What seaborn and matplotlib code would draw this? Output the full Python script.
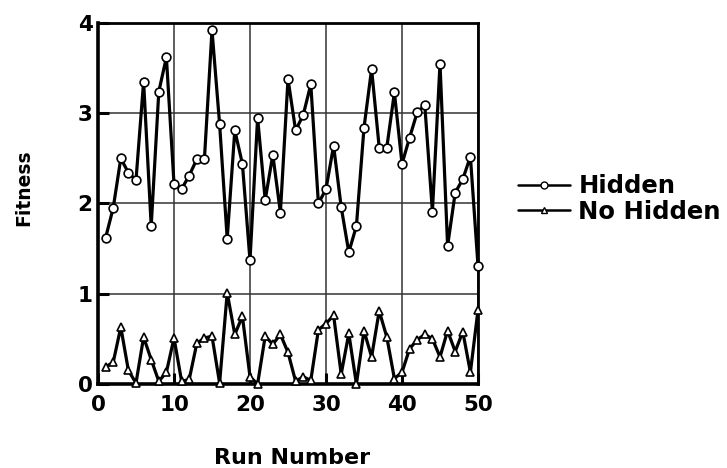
import matplotlib
matplotlib.use("Agg")
import matplotlib.pyplot as plt
from matplotlib.lines import Line2D
import seaborn as sns
import pandas as pd

runs = list(range(1, 51))
hidden = [1.62, 1.95, 2.50, 2.34, 2.26, 3.35, 1.75, 3.24, 3.62, 2.22,
          2.16, 2.31, 2.49, 2.49, 3.92, 2.88, 1.61, 2.81, 2.44, 1.37,
          2.95, 2.04, 2.54, 1.90, 3.38, 2.81, 2.98, 3.32, 2.00, 2.16,
          2.64, 1.96, 1.46, 1.75, 2.84, 3.49, 2.62, 2.62, 3.23, 2.44,
          2.73, 3.01, 3.09, 1.91, 3.55, 1.53, 2.12, 2.27, 2.52, 1.31]
no_hidden = [0.19, 0.24, 0.63, 0.15, 0.01, 0.52, 0.27, 0.03, 0.13, 0.51,
             0.03, 0.05, 0.45, 0.51, 0.53, 0.01, 1.01, 0.55, 0.75, 0.08,
             0.00, 0.53, 0.44, 0.55, 0.35, 0.03, 0.08, 0.04, 0.60, 0.67,
             0.76, 0.11, 0.56, 0.00, 0.59, 0.30, 0.81, 0.52, 0.06, 0.13,
             0.39, 0.49, 0.55, 0.50, 0.30, 0.59, 0.36, 0.58, 0.13, 0.82]
series_names = ["Hidden", "No Hidden"]
x_ticks = [0, 10, 20, 30, 40, 50]
y_ticks = [0, 1, 2, 3, 4]

df = pd.DataFrame({"Run Number": runs, "Hidden": hidden, "No Hidden": no_hidden})

sns.set_theme(style="white")
plt.rcParams["font.family"] = ["DejaVu Sans"]
plt.rcParams["font.weight"] = "bold"
plt.rcParams["text.color"] = "black"
plt.rcParams["axes.labelcolor"] = "black"
plt.rcParams["xtick.color"] = "black"
plt.rcParams["ytick.color"] = "black"

fig = plt.figure(figsize=(7.27, 4.68), dpi=100)
ax = fig.add_axes([98 / 727, 1 - 384 / 468, 380 / 727, 361 / 468])

sns.lineplot(data=df, x="Run Number", y="Hidden", ax=ax, color="black",
             linewidth=2.3, marker="o", markersize=6.3, markerfacecolor="white",
             markeredgecolor="black", markeredgewidth=1.2, clip_on=False, zorder=4)
sns.lineplot(data=df, x="Run Number", y="No Hidden", ax=ax, color="black",
             linewidth=2.3, marker="^", markersize=6.0, markerfacecolor="white",
             markeredgecolor="black", markeredgewidth=1.2, clip_on=False, zorder=4)

ax.set_xlim(0, 50)
ax.set_ylim(0, 4)
ax.set_xticks(x_ticks)
ax.set_yticks(y_ticks)
ax.grid(True, color="#333333", linewidth=1.1)
ax.set_axisbelow(True)

for side in ["left", "bottom"]:
    ax.spines[side].set_linewidth(2.6)
for side in ["top", "right"]:
    ax.spines[side].set_linewidth(2.0)
for s in ax.spines.values():
    s.set_color("black")
    s.set_visible(True)

ax.tick_params(axis="both", direction="in", length=8, width=2.2, color="black",
               labelcolor="black", labelsize=15.5, left=True, bottom=True)
ax.tick_params(axis="x", pad=8)
ax.tick_params(axis="y", pad=4)
for lab in ax.get_xticklabels() + ax.get_yticklabels():
    lab.set_fontweight("bold")

ax.set_xlabel("Run Number", fontsize=16, fontweight="bold", color="black",
              va="bottom")
ax.set_ylabel("Fitness", fontsize=13.5, fontweight="bold", color="black")
ax.xaxis.set_label_coords(0.512, -84 / 361)
ax.yaxis.set_label_coords(-0.171, 0.543)

handles = [
    Line2D([], [], color="black", linewidth=1.8, marker="o", markersize=5,
           markerfacecolor="white", markeredgecolor="black", markeredgewidth=1.0),
    Line2D([], [], color="black", linewidth=1.8, marker="^", markersize=5,
           markerfacecolor="white", markeredgecolor="black", markeredgewidth=1.0),
]
leg = fig.legend(handles, series_names, loc="center left",
                 bbox_to_anchor=(518 / 727, 1 - 199 / 468), frameon=False,
                 borderpad=0, borderaxespad=0, handlelength=2.15, handletextpad=0.33,
                 labelspacing=0.05, prop={"size": 17.5, "weight": "bold"})
for t in leg.get_texts():
    t.set_color("black")

fig.savefig("out.png", dpi=100)
